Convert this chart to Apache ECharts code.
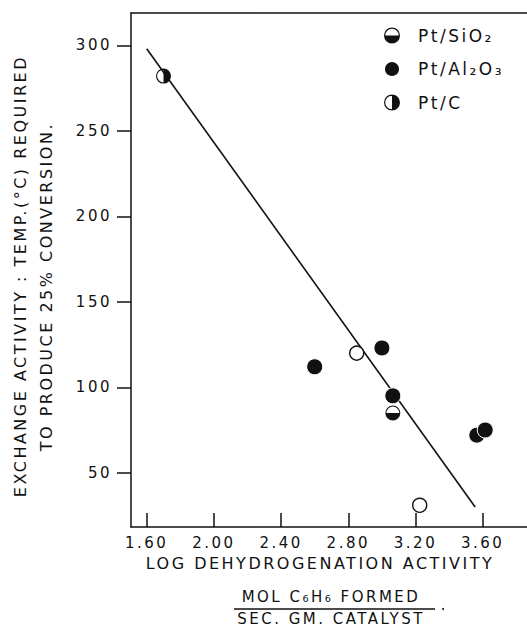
<!DOCTYPE html>
<html>
<head>
<meta charset="utf-8">
<script src="https://cdn.jsdelivr.net/npm/echarts@6/dist/echarts.min.js"></script>
<style>
  html, body { margin: 0; padding: 0; background: #fff; }
  #chart { width: 527px; height: 628px; }
  /* hand-lettered look: spaced-out capitals */
  #chart svg text { letter-spacing: 2.5px; }
</style>
</head>
<body>
<div id="chart"></div>
<script>
// Log dehydrogenation activity (x) vs. exchange temperature for 25% conversion (y)
var ptSiO2 = [[3.065, 85]];
var ptAl2O3 = [[2.60, 112], [3.00, 123], [3.065, 95], [3.565, 72], [3.615, 75]];
var ptC = [[1.70, 282]];
var openPoints = [[2.85, 120], [3.225, 31]];
var fitLine = [[1.60, 298], [3.555, 30]];

var xTicks = [1.60, 2.00, 2.40, 2.80, 3.20, 3.60];
var yTicks = [50, 100, 150, 200, 250, 300];

var xMin = 1.5065, xMax = 3.8637;
var yMin = 18.3, yMax = 318.9;

var ink = '#111';
var font = '"DejaVu Sans", "Liberation Sans", sans-serif';

// circle outline with the lower half filled
var halfBottom = 'path://M0,10A10,10,0,1,1,20,10A10,10,0,1,1,0,10Z' +
  'M1.5,10A8.5,8.5,0,1,0,18.5,10A8.5,8.5,0,1,0,1.5,10Z' +
  'M1,10L19,10A9,9,0,0,1,1,10Z';
// circle outline with the right half filled
var halfRight = 'path://M0,10A10,10,0,1,1,20,10A10,10,0,1,1,0,10Z' +
  'M1.5,10A8.5,8.5,0,1,0,18.5,10A8.5,8.5,0,1,0,1.5,10Z' +
  'M10,1A9,9,0,0,1,10,19Z';

var legendNames = {
  'Pt/SiO2': 'Pt/SiO\u2082',
  'Pt/Al2O3': 'Pt/Al\u2082O\u2083',
  'Pt/C': 'Pt/C'
};

var chart = echarts.init(document.getElementById('chart'), null, { renderer: 'svg' });
chart.setOption({
  animation: false,
  backgroundColor: '#fff',
  grid: { left: 131, top: 13, right: 0, bottom: 101, show: false },
  legend: {
    orient: 'vertical',
    left: 378, top: 22,
    itemWidth: 16, itemHeight: 16, itemGap: 16,
    data: ['Pt/SiO2', 'Pt/Al2O3', 'Pt/C'],
    formatter: function (name) { return legendNames[name]; },
    textStyle: { color: ink, fontFamily: font, fontSize: 17, padding: [0, 0, 0, 13] }
  },
  xAxis: [
    {
      type: 'value', min: xMin, max: xMax,
      axisLine: { show: true, lineStyle: { color: ink, width: 1.5 } },
      axisTick: { show: true, inside: true, length: 14, lineStyle: { color: ink, width: 1.5 }, customValues: xTicks },
      axisLabel: {
        show: true, margin: 8, color: ink, fontFamily: font, fontSize: 15,
        customValues: xTicks,
        formatter: function (v) { return v.toFixed(2); }
      },
      splitLine: { show: false }
    },
    {
      // top frame edge
      type: 'value', position: 'top', min: xMin, max: xMax,
      axisLine: { show: true, lineStyle: { color: ink, width: 1.5 } },
      axisTick: { show: false }, axisLabel: { show: false }, splitLine: { show: false }
    }
  ],
  yAxis: {
    type: 'value', min: yMin, max: yMax,
    axisLine: { show: true, lineStyle: { color: ink, width: 1.5 } },
    axisTick: { show: true, inside: false, length: 14, lineStyle: { color: ink, width: 1.5 }, customValues: yTicks },
    axisLabel: {
      show: true, margin: 19, color: ink, fontFamily: font, fontSize: 15,
      customValues: yTicks,
      formatter: function (v) { return String(Math.round(v)); }
    },
    splitLine: { show: false }
  },
  graphic: [
    {
      type: 'text', x: 20, y: 55, rotation: Math.PI / 2,
      style: {
        text: 'EXCHANGE ACTIVITY : TEMP.(°C) REQUIRED',
        font: '16px ' + font, fill: ink, align: 'right', verticalAlign: 'middle'
      }
    },
    {
      type: 'text', x: 46, y: 122, rotation: Math.PI / 2,
      style: {
        text: 'TO PRODUCE 25% CONVERSION.',
        font: '16px ' + font, fill: ink, align: 'right', verticalAlign: 'middle'
      }
    },
    {
      type: 'text', x: 320, y: 563,
      style: {
        text: 'LOG DEHYDROGENATION ACTIVITY',
        font: '16px ' + font, fill: ink, align: 'center', verticalAlign: 'middle'
      }
    },
    {
      type: 'text', x: 331, y: 597,
      style: {
        text: 'MOL C\u2086H\u2086 FORMED',
        font: '15px ' + font, fill: ink, align: 'center', verticalAlign: 'middle'
      }
    },
    {
      type: 'line', shape: { x1: 234, y1: 609, x2: 435, y2: 609 },
      style: { stroke: ink, lineWidth: 1.3 }
    },
    {
      type: 'circle', shape: { cx: 443, cy: 609, r: 1 },
      style: { fill: ink }
    },
    {
      type: 'text', x: 331, y: 619,
      style: {
        text: 'SEC. GM. CATALYST',
        font: '15px ' + font, fill: ink, align: 'center', verticalAlign: 'middle'
      }
    }
  ],
  series: [
    {
      name: 'fit', type: 'line', data: fitLine, symbol: 'none', z: 1,
      lineStyle: { color: ink, width: 1.6 }, silent: true
    },
    {
      name: 'open', type: 'scatter', data: openPoints, symbol: 'circle', symbolSize: 14, z: 3,
      itemStyle: { color: '#fff', borderColor: ink, borderWidth: 1.4, opacity: 1 }
    },
    {
      name: 'Pt/SiO2', type: 'scatter', data: ptSiO2, symbol: halfBottom, symbolSize: 15, z: 3,
      itemStyle: { color: ink, opacity: 1 }
    },
    {
      name: 'Pt/Al2O3', type: 'scatter', data: ptAl2O3, symbol: 'circle', symbolSize: 16, z: 3,
      itemStyle: { color: ink, borderColor: '#fff', borderWidth: 1, opacity: 1 }
    },
    {
      name: 'Pt/C', type: 'scatter', data: ptC, symbol: halfRight, symbolSize: 15, z: 3,
      itemStyle: { color: ink, opacity: 1 }
    }
  ]
});
</script>
</body>
</html>
